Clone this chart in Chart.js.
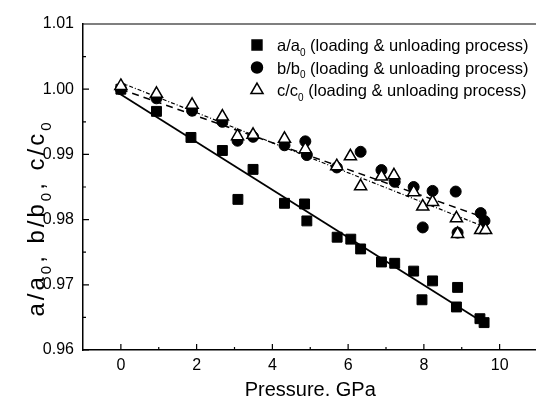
<!DOCTYPE html>
<html>
<head>
<meta charset="utf-8">
<script src="https://cdn.jsdelivr.net/npm/chart.js@4"></script>
<style>
  html, body { margin: 0; padding: 0; background: #fff; overflow: hidden; }
  #wrap { width: 546px; height: 405px; }
</style>
</head>
<body>
<div id="wrap"><canvas id="latticeChart" width="546" height="405"></canvas></div>
<script>
// Lattice parameter ratios vs pressure
const pressureA = [0, 0.94, 1.85, 2.68, 3.09, 3.49, 4.32, 4.85, 4.91, 5.71, 6.07, 6.33, 6.88, 7.23, 7.73, 7.95, 8.23, 8.86, 8.89, 9.48, 9.59];
const ratioA = [1.0000, 0.9966, 0.9926, 0.9906, 0.9831, 0.9877, 0.9825, 0.9824, 0.9798, 0.9773, 0.9770, 0.9755, 0.9735, 0.9733, 0.9721, 0.9677, 0.9706, 0.9666, 0.9696, 0.9648, 0.9642];

const pressureB = [0, 0.94, 1.88, 2.68, 3.08, 3.49, 4.32, 4.87, 4.91, 5.70, 6.33, 6.88, 7.23, 7.73, 7.97, 8.23, 8.84, 8.89, 9.50, 9.60];
const ratioB = [1.0000, 0.9986, 0.9967, 0.9950, 0.9921, 0.9927, 0.9914, 0.9920, 0.9899, 0.9880, 0.9904, 0.9876, 0.9858, 0.9850, 0.9788, 0.9844, 0.9843, 0.9780, 0.9810, 0.9798];

const pressureC = [0, 0.94, 1.88, 2.68, 3.08, 3.49, 4.32, 4.87, 5.70, 6.06, 6.33, 6.88, 7.21, 7.73, 7.97, 8.23, 8.86, 8.89, 9.50, 9.63];
const ratioC = [1.0005, 0.9993, 0.9976, 0.9958, 0.9928, 0.9930, 0.9924, 0.9908, 0.9882, 0.9897, 0.9851, 0.9866, 0.9868, 0.9842, 0.9820, 0.9827, 0.9802, 0.9778, 0.9784, 0.9784];

// linear fits, end points
const fitPressure = [0, 9.6];
const fitA = [0.9992, 0.9641];
const fitB = [1.0000, 0.9803];
const fitC = [1.0010, 0.9789];

const xTicks = [0, 2, 4, 6, 8, 10];
const yTicks = [0.96, 0.97, 0.98, 0.99, 1.00, 1.01];

const FONT = 'Arial, "Liberation Sans", sans-serif';

function toPoints(xs, ys) {
  return xs.map((x, i) => ({ x: x, y: ys[i] }));
}

// draws text where some parts are subscripts, returns width
function drawSubText(ctx, parts, x, y, size, measureOnly) {
  let cx = x;
  parts.forEach(([t, sub]) => {
    ctx.font = (sub ? Math.round(size * 0.62) : size) + 'px ' + FONT;
    if (!measureOnly) ctx.fillText(t, cx, sub ? y + size * 0.28 : y);
    cx += ctx.measureText(t).width;
  });
  return cx - x;
}

const legendItems = [
  { parts: [['a/a', false], ['0', true], [' (loading & unloading process)', false]], style: 'rect', radius: 7, fill: '#000' },
  { parts: [['b/b', false], ['0', true], [' (loading & unloading process)', false]], style: 'circle', radius: 5.5, fill: '#000' },
  { parts: [['c/c', false], ['0', true], [' (loading & unloading process)', false]], style: 'triangle', radius: 7, fill: '#fff' }
];

// inward tick marks, top frame line, y title and legend
const decorations = {
  id: 'decorations',
  afterDraw(chart) {
    const { ctx, chartArea: area, scales: { x, y } } = chart;
    ctx.save();
    ctx.strokeStyle = '#000';
    ctx.lineWidth = 1.2;
    ctx.beginPath();
    ctx.moveTo(area.left, area.top);
    ctx.lineTo(area.right, area.top);
    for (let i = 0; i <= 10; i++) {
      const px = x.getPixelForValue(i);
      const len = i % 2 === 0 ? 6 : 3;
      ctx.moveTo(px, area.bottom);
      ctx.lineTo(px, area.bottom - len);
    }
    for (let i = 0; i <= 10; i++) {
      const py = y.getPixelForValue(0.96 + i * 0.005);
      const len = i % 2 === 0 ? 6 : 3;
      ctx.moveTo(area.left, py);
      ctx.lineTo(area.left + len, py);
    }
    ctx.stroke();

    // y axis title
    ctx.fillStyle = '#000';
    ctx.textBaseline = 'alphabetic';
    ctx.letterSpacing = '3px';
    const titleParts = [['a/a', false], ['0', true], [', b/b', false], ['0', true], [', c/c', false], ['0', true]];
    const tw = drawSubText(ctx, titleParts, 0, 0, 24, true);
    ctx.save();
    ctx.translate(44, 218);
    ctx.rotate(-Math.PI / 2);
    drawSubText(ctx, titleParts, -tw / 2, 0, 24, false);
    ctx.restore();
    ctx.letterSpacing = '0px';

    // legend
    legendItems.forEach((item, i) => {
      const cy = 45 + i * 22.5;
      ctx.fillStyle = item.fill;
      ctx.strokeStyle = '#000';
      ctx.lineWidth = 1.5;
      Chart.helpers.drawPoint(ctx, { pointStyle: item.style, radius: item.radius, rotation: 0, borderWidth: 1.5 }, 257, cy);
      ctx.fillStyle = '#000';
      drawSubText(ctx, item.parts, 277, cy + 6, 16.5, false);
    });
    ctx.restore();
  }
};

new Chart(document.getElementById('latticeChart'), {
  type: 'scatter',
  data: {
    datasets: [
      {
        label: 'c/c0 (loading & unloading process)',
        data: toPoints(pressureC, ratioC),
        pointStyle: 'triangle',
        pointRadius: 7,
        backgroundColor: '#fff',
        borderColor: '#000',
        borderWidth: 1.5,
        order: 1
      },
      {
        label: 'b/b0 (loading & unloading process)',
        data: toPoints(pressureB, ratioB),
        pointStyle: 'circle',
        pointRadius: 5.5,
        backgroundColor: '#000',
        borderColor: '#000',
        borderWidth: 1,
        order: 2
      },
      {
        label: 'a/a0 (loading & unloading process)',
        data: toPoints(pressureA, ratioA),
        pointStyle: 'rect',
        pointRadius: 7,
        backgroundColor: '#000',
        borderColor: '#000',
        borderWidth: 1,
        order: 3
      },
      {
        type: 'line',
        label: 'fit a',
        data: toPoints(fitPressure, fitA),
        borderColor: '#000',
        borderWidth: 1.8,
        pointRadius: 0,
        fill: false,
        order: 4
      },
      {
        type: 'line',
        label: 'fit b',
        data: toPoints(fitPressure, fitB),
        borderColor: '#000',
        borderWidth: 1.5,
        borderDash: [7, 5],
        pointRadius: 0,
        fill: false,
        order: 5
      },
      {
        type: 'line',
        label: 'fit c',
        data: toPoints(fitPressure, fitC),
        borderColor: '#000',
        borderWidth: 1.2,
        borderDash: [4, 2, 1, 2],
        pointRadius: 0,
        fill: false,
        order: 6
      }
    ]
  },
  options: {
    responsive: false,
    animation: false,
    devicePixelRatio: 1,
    layout: { padding: { left: 0, top: 24, right: 5, bottom: 0 } },
    plugins: {
      legend: { display: false },
      tooltip: { enabled: false }
    },
    scales: {
      x: {
        type: 'linear',
        min: -1,
        max: 11,
        afterBuildTicks: (scale) => { scale.ticks = xTicks.map(v => ({ value: v })); },
        afterFit: (scale) => { scale.height = 55; },
        grid: { display: false, drawTicks: false },
        border: { display: true, color: '#000', width: 1.5 },
        ticks: {
          color: '#000',
          padding: 6,
          maxRotation: 0,
          font: { family: FONT, size: 16 },
          callback: (v) => String(v)
        },
        title: {
          display: true,
          text: 'Pressure. GPa',
          color: '#000',
          font: { family: FONT, size: 20 },
          padding: { top: 0, bottom: 3 }
        }
      },
      y: {
        type: 'linear',
        min: 0.96,
        max: 1.01,
        afterBuildTicks: (scale) => { scale.ticks = yTicks.map(v => ({ value: v })); },
        afterFit: (scale) => { scale.width = 83; },
        grid: { display: false, drawTicks: false },
        border: { display: true, color: '#000', width: 1.5 },
        ticks: {
          color: '#000',
          padding: 9,
          font: { family: FONT, size: 16 },
          callback: (v) => v.toFixed(2)
        }
      }
    }
  },
  plugins: [decorations]
});
</script>
</body>
</html>
